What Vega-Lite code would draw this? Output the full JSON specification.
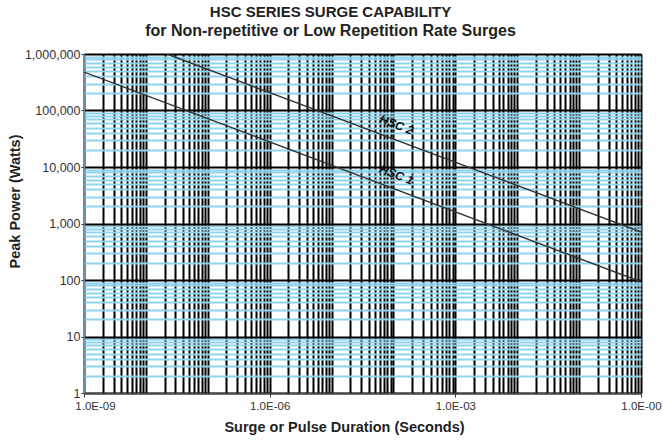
{
  "$schema": "https://vega.github.io/schema/vega-lite/v6.json",
  "width": 557,
  "height": 339,
  "autosize": {"type": "none"},
  "padding": {"left": 84, "top": 54, "right": 22, "bottom": 47},
  "background": "white",
  "config": {
    "font": "Liberation Sans",
    "view": {"stroke": "#888888", "strokeWidth": 1}
  },
  "title": {
    "text": "HSC SERIES SURGE CAPABILITY",
    "subtitle": "for Non-repetitive or Low Repetition Rate Surges",
    "fontSize": 15,
    "fontWeight": "bold",
    "color": "#222222",
    "subtitleFontSize": 16,
    "subtitleFontWeight": "bold",
    "subtitleColor": "#222222",
    "subtitlePadding": 3,
    "offset": 9,
    "anchor": "middle",
    "dx": -32
  },
  "datasets": {
    "lines": [
      {"t": 1e-9, "p": 478000, "series": "HSC 1"},
      {"t": 1, "p": 93, "series": "HSC 1"},
      {"t": 2.2e-8, "p": 1000000, "series": "HSC 2"},
      {"t": 1, "p": 707, "series": "HSC 2"}
    ],
    "labels": [
      {"t": 1.12e-4, "p": 55800, "label": "HSC 2"},
      {"t": 1.12e-4, "p": 7280, "label": "HSC 1"}
    ]
  },
  "layer": [
    {
      "data": {"name": "lines"},
      "mark": {"type": "line", "color": "#333333", "strokeWidth": 1.4, "clip": true},
      "encoding": {
        "x": {
          "field": "t", "type": "quantitative",
          "scale": {"type": "log", "domain": [1e-9, 1], "nice": false},
          "axis": {
            "orient": "bottom", "labels": false, "ticks": false, "domain": false, "title": null,
            "grid": true, "gridColor": "#000000", "gridWidth": 2, "gridOpacity": 1,
            "values": [1e-9,2e-9,3e-9,4e-9,5e-9,6e-9,7e-9,8e-9,9e-9,
                       1e-8,2e-8,3e-8,4e-8,5e-8,6e-8,7e-8,8e-8,9e-8,
                       1e-7,2e-7,3e-7,4e-7,5e-7,6e-7,7e-7,8e-7,9e-7,
                       1e-6,2e-6,3e-6,4e-6,5e-6,6e-6,7e-6,8e-6,9e-6,
                       1e-5,2e-5,3e-5,4e-5,5e-5,6e-5,7e-5,8e-5,9e-5,
                       1e-4,2e-4,3e-4,4e-4,5e-4,6e-4,7e-4,8e-4,9e-4,
                       1e-3,2e-3,3e-3,4e-3,5e-3,6e-3,7e-3,8e-3,9e-3,
                       1e-2,2e-2,3e-2,4e-2,5e-2,6e-2,7e-2,8e-2,9e-2,
                       0.1,0.2,0.3,0.4,0.5,0.6,0.7,0.8,0.9,1]
          }
        },
        "y": {
          "field": "p", "type": "quantitative",
          "scale": {"type": "log", "domain": [1, 1000000], "nice": false},
          "axis": {
            "orient": "left", "labels": false, "ticks": false, "domain": false, "title": null,
            "grid": true, "gridColor": "#8fd3ec", "gridWidth": 2, "gridOpacity": 1,
            "values": [2,3,4,5,6,7,8,9,20,30,40,50,60,70,80,90,
                       200,300,400,500,600,700,800,900,2000,3000,4000,5000,6000,7000,8000,9000,
                       20000,30000,40000,50000,60000,70000,80000,90000,
                       200000,300000,400000,500000,600000,700000,800000,900000]
          }
        },
        "detail": {"field": "series", "type": "nominal"}
      }
    },
    {
      "data": {"name": "labels"},
      "mark": {"type": "text", "fontSize": 12, "fontWeight": "bold", "fontStyle": "italic", "angle": 21, "color": "#111111"},
      "encoding": {
        "x": {
          "field": "t", "type": "quantitative",
          "scale": {"type": "log", "domain": [1e-9, 1], "nice": false},
          "axis": {
            "orient": "bottom", "grid": false,
            "values": [1e-9, 1e-6, 1e-3, 1],
            "labelExpr": "'1.0E-0' + format(abs(log(datum.value)/LN10), '.0f')",
            "labelFontSize": 11.5, "labelColor": "#333333", "labelPadding": 3,
            "labelFlush": false,
            "labelOffset": {"condition": {"test": "datum.value < 1e-8", "value": 11}, "value": 0},
            "tickSize": 4, "tickColor": "#333333", "tickWidth": 1,
            "domainColor": "#444444", "domainWidth": 1.5,
            "title": "Surge or Pulse Duration (Seconds)",
            "titleFontSize": 14.5, "titleFontWeight": "bold", "titleColor": "#222222", "titlePadding": 9,
            "titleX": 260, "titleAlign": "center"
          }
        },
        "y": {
          "field": "p", "type": "quantitative",
          "scale": {"type": "log", "domain": [1, 1000000], "nice": false},
          "axis": {
            "orient": "left",
            "values": [1, 10, 100, 1000, 10000, 100000, 1000000],
            "format": ",.0f",
            "grid": true, "gridColor": "#000000", "gridWidth": 2, "gridOpacity": 1,
            "labelFontSize": 12.5, "labelColor": "#333333", "labelPadding": 1,
            "tickSize": 3, "tickColor": "#333333", "tickWidth": 1,
            "domainColor": "#6f92a6", "domainWidth": 1.5,
            "title": "Peak Power (Watts)",
            "titleFontSize": 14.5, "titleFontWeight": "bold", "titleColor": "#222222",
            "titleX": -62, "titleY": 147, "titleAlign": "center"
          }
        },
        "text": {"field": "label", "type": "nominal"}
      }
    }
  ],
  "resolve": {"axis": {"x": "independent", "y": "independent"}}
}
